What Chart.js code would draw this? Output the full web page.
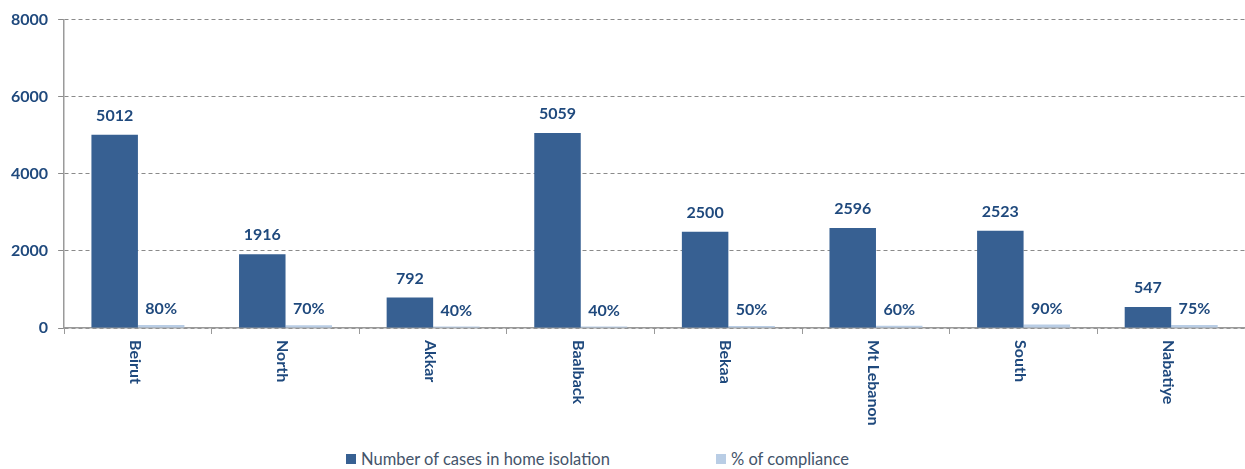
<!DOCTYPE html>
<html>
<head>
<meta charset="utf-8">
<script src="https://cdn.jsdelivr.net/npm/chart.js@4"></script>
<style>
  body { margin: 0; background: #fff; }
  #wrap { position: relative; width: 1245px; height: 440px; }
  #legend { position: absolute; top: 449px; left: 0; width: 1245px; height: 20px;
            font-family: Lato, sans-serif; font-size: 16.5px; color: #44546A; }
  .item { position: absolute; top: 0; display: flex; align-items: center; }
  .box { width: 10px; height: 10px; margin-right: 5px; }
</style>
</head>
<body>
<div id="wrap"><canvas id="chart"></canvas></div>
<div id="legend"></div>
<script>
const regions = ['Beirut', 'North', 'Akkar', 'Baalback', 'Bekaa', 'Mt Lebanon', 'South', 'Nabatiye'];
const homeIsolation = [5012, 1916, 792, 5059, 2500, 2596, 2523, 547];
const compliance = [80, 70, 40, 40, 50, 60, 90, 75];
const yTicks = [0, 2000, 4000, 6000, 8000];

const darkBlue = '#376092';
const lightBlue = '#B9CDE5';
const labelColor = '#1F497D';

// legend drawn as html so the wide gap between the two items matches
const legendItems = [
    { text: 'Number of cases in home isolation', color: darkBlue, left: 346 },
    { text: '% of compliance', color: lightBlue, left: 716 }
];
const legendEl = document.getElementById('legend');
legendItems.forEach(it => {
    const d = document.createElement('div');
    d.className = 'item';
    d.style.left = it.left + 'px';
    d.innerHTML = '<span class="box" style="background:' + it.color + '"></span>' + it.text;
    legendEl.appendChild(d);
});

const barLabels = {
    id: 'barLabels',
    afterDatasetsDraw(chart) {
        const ctx = chart.ctx;
        ctx.save();
        ctx.font = 'bold 16px Lato';
        ctx.fillStyle = labelColor;
        ctx.textAlign = 'center';
        ctx.textBaseline = 'bottom';
        chart.data.datasets.forEach((ds, di) => {
            chart.getDatasetMeta(di).data.forEach((bar, i) => {
                const txt = di === 1 ? ds.data[i] + '%' : String(ds.data[i]);
                ctx.fillText(txt, bar.x, bar.y - (di === 1 ? 8 : 11));
            });
        });
        ctx.restore();
    }
};

// category labels read top to bottom (rotated clockwise)
const xLabels = {
    id: 'xLabels',
    afterDraw(chart) {
        const ctx = chart.ctx;
        const xs = chart.scales.x;
        ctx.save();
        ctx.font = 'bold 16px Lato';
        ctx.fillStyle = labelColor;
        ctx.textAlign = 'left';
        ctx.textBaseline = 'middle';
        regions.forEach((r, i) => {
            ctx.save();
            ctx.translate(xs.getPixelForTick(i) - 3, xs.top + 12);
            ctx.rotate(Math.PI / 2);
            ctx.fillText(r, 0, 0);
            ctx.restore();
        });
        ctx.restore();
    }
};

const ctx = document.getElementById('chart');

new Chart(ctx, {
    type: 'bar',
    data: {
        labels: regions,
        datasets: [
            {
                label: 'Number of cases in home isolation',
                data: homeIsolation,
                backgroundColor: darkBlue,
                categoryPercentage: 0.63,
                barPercentage: 1
            },
            {
                label: '% of compliance',
                data: compliance,
                backgroundColor: lightBlue,
                categoryPercentage: 0.63,
                barPercentage: 1
            }
        ]
    },
    options: {
        responsive: true,
        maintainAspectRatio: false,
        animation: false,
        layout: { padding: { top: 10, right: 0, bottom: 106, left: 1 } },
        plugins: {
            legend: { display: false },
            tooltip: { enabled: false }
        },
        scales: {
            x: {
                grid: { drawOnChartArea: false, drawTicks: true, tickLength: 6, color: '#9a9a9a', offset: true },
                border: { color: '#9a9a9a', width: 1.5 },
                ticks: { display: false }
            },
            y: {
                min: 0,
                max: 8000,
                afterBuildTicks(scale) {
                    scale.ticks = yTicks.map(v => ({ value: v }));
                },
                grid: { color: '#8a8a8a', tickLength: 6, tickColor: '#8a8a8a' },
                border: { color: '#9a9a9a', width: 1.5, dash: [4, 3] },
                ticks: {
                    padding: 10,
                    color: labelColor,
                    font: { family: 'Lato', size: 16, weight: 'bold' },
                    callback: v => String(v)
                }
            }
        }
    },
    plugins: [barLabels, xLabels]
});
</script>
</body>
</html>
